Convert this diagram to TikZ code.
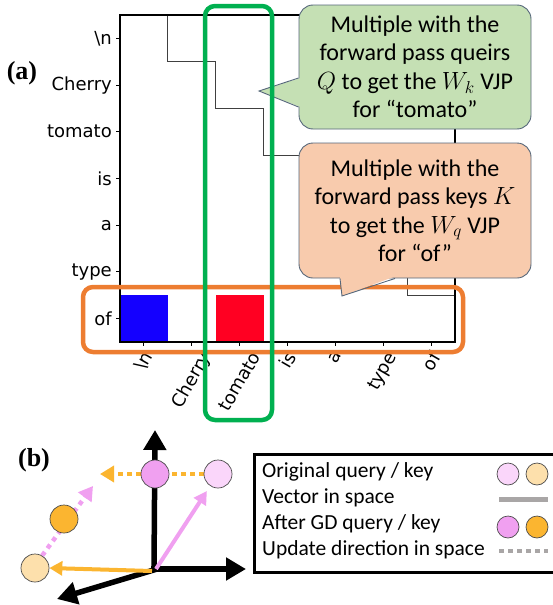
\documentclass[tikz,border=0pt]{standalone}
\usepackage{fontspec}
\usepackage{graphicx}
\setmainfont{Carlito}
\newfontfamily\plotfont{DejaVu Sans}
\newfontfamily\tagfont{Liberation Serif}
\usetikzlibrary{positioning,arrows.meta,backgrounds}

\definecolor{hlgreen}{HTML}{00B050}
\definecolor{hlorange}{HTML}{ED7D31}
\definecolor{notegreen}{HTML}{C5E0B4}
\definecolor{noteorange}{HTML}{F8CBAD}
\definecolor{noteline}{HTML}{56677A}
\definecolor{cellblue}{HTML}{1400FF}
\definecolor{cellred}{HTML}{FF0022}
\definecolor{qlight}{HTML}{FAD6FA}
\definecolor{qdark}{HTML}{F0A0F0}
\definecolor{klight}{HTML}{FDE0AC}
\definecolor{kdark}{HTML}{FBB530}
\definecolor{legendgray}{HTML}{A9A6A6}

\begin{document}
\begin{tikzpicture}[x=1pt, y=-1pt, >=Stealth, every node/.style={inner sep=0pt}]
  % compact styles
  \tikzset{
    ytick/.style={anchor=east, font=\plotfont\fontsize{18}{20}\selectfont},
    xtick/.style={anchor=north, font=\plotfont\fontsize{18}{20}\selectfont},
    mask/.style={draw=black!75, line width=1.1pt},
    hlbox/.style={line width=4.5pt, rounded corners=10pt},
    callbox/.style={draw=noteline, line width=0.9pt, rounded corners=14pt, minimum width=232pt, align=center, font=\fontsize{24}{28.5}\selectfont},
    axisarrow/.style={line width=5.5pt, -{Triangle[length=20pt,width=22pt]}},
    vec/.style={line width=4pt, -{Triangle[length=13pt,width=14pt]}},
    upd/.style={line width=4.5pt, dash pattern=on 4.5pt off 4.5pt, -{Triangle[length=14pt,width=16pt]}},
    blob/.style={circle, draw=black!70, line width=0.7pt, minimum size=28pt},
    legblob/.style={circle, draw=black!70, line width=0.7pt, minimum size=22pt},
    leg/.style={anchor=west, font=\fontsize{21.5}{24}\selectfont},
    tag/.style={font=\tagfont\bfseries\fontsize{26}{30}\selectfont}
  }
  \useasboundingbox (0,0) rectangle (553,605);

  % (a) attention map
  \node[tag] (taga) at (22,73) {(a)};
  \fill[cellblue] (120,295) rectangle (167.9,342);
  \fill[cellred] (215.7,295) rectangle (263.6,342);
  \foreach \i in {1,...,6}
    \draw[mask] ({120+47.86*\i},{15+46.71*(\i-1)}) -- ++(0,46.71) -- ++(47.86,0);
  \draw[line width=1.1pt] (120,15) rectangle (455,342);

  \foreach \lab [count=\i from 0] in {{\textbackslash n},Cherry,tomato,is,a,type,of} {
    \draw[line width=1pt] (116,{38.36+46.71*\i}) -- (120,{38.36+46.71*\i});
    \node[ytick] (ylab\i) at (112,{38.36+46.71*\i}) {\lab};
    \draw[line width=1pt] ({143.9+47.86*\i},342) -- ({143.9+47.86*\i},346);
    \node[xtick] (xlab\i) at ({143.9+47.86*\i},350) {\rotatebox{60}{\lab}};
  }

  % highlighted row
  \draw[hlbox, hlorange] (83,287) rectangle (463,352);

  % callouts
  \node[callbox, fill=notegreen, minimum height=124pt] (qnote) at (415,67)
    {Multiple with the\\forward pass queirs\\$Q$ to get the $W_k$ VJP\\for “tomato”};
  \coordinate (qtip) at (259,91);
  \fill[notegreen] (qtip) -- ([xshift=2pt,yshift=-11pt]qnote.west) -- ([xshift=2pt,yshift=-40pt]qnote.west) -- cycle;
  \draw[noteline, line width=0.9pt] ([yshift=-11pt]qnote.west) -- (qtip) -- ([yshift=-40pt]qnote.west);

  \node[callbox, fill=noteorange, minimum height=135pt] (knote) at (415,210.5)
    {Multiple with the\\forward pass keys $K$\\to get the $W_q$ VJP\\for “of”};
  \coordinate (ktip) at (342,296);
  \fill[noteorange] (ktip) -- ([xshift=-75pt,yshift=2pt]knote.south) -- ([xshift=-20pt,yshift=2pt]knote.south) -- cycle;
  \draw[noteline, line width=0.9pt] ([xshift=-75pt]knote.south) -- (ktip) -- ([xshift=-20pt]knote.south);

  % highlighted column
  \draw[hlbox, hlgreen] (205,6) rectangle (272,420);

  % (b) query / key space
  \node[tag] (tagb) at (34,460) {(b)};
  \coordinate (o) at (154,569);
  \coordinate (yend) at (155,430);
  \coordinate (xend) at (246,569);
  \coordinate (zend) at (57,599);
  \node[blob, fill=qlight] (oq) at (218,474) {};
  \node[blob, fill=qdark] (nq) at (155,474) {};
  \node[blob, fill=klight] (ok) at (35,568) {};
  \node[blob, fill=kdark] (nk) at (64,519) {};
  \coordinate (qend) at (100,474);
  \coordinate (kend) at (93,486);

  \begin{scope}[on background layer]
    \draw[axisarrow] (o) -- (yend);
    \draw[axisarrow] ([xshift=-3pt]o) -- (xend);
    \draw[axisarrow] ([xshift=3pt]o) -- (zend);
    \draw[vec, qdark, shorten >=6pt] ([xshift=2pt]o) -- (oq);
    \draw[vec, kdark] ([xshift=-2pt,yshift=-2pt]o) -- (ok.east);
    \draw[upd, kdark] (oq.west) -- (qend);
    \draw[upd, qdark] (ok.60) -- (kend);
  \end{scope}

  % legend
  \node[draw, line width=2.5pt, anchor=north west, minimum width=310pt, minimum height=118pt] (legend) at (253,453) {};
  \node[leg] (leg1) at (262,472) {Original query / key};
  \node[leg] (leg2) at (262,498) {Vector in space};
  \node[leg] (leg3) at (262,524) {After GD query / key};
  \node[leg] (leg4) at (262,550) {Update direction in space};
  \node[legblob, fill=qlight] (lq1) at (508,474) {};
  \node[legblob, fill=klight] (lk1) at (537,474) {};
  \node[legblob, fill=qdark] (lq2) at (508,527) {};
  \node[legblob, fill=kdark] (lk2) at (537,527) {};
  \draw[legendgray, line width=5pt] (499,499) -- (548,499);
  \draw[legendgray, line width=4.5pt, dash pattern=on 4.5pt off 4.5pt] (499,551) -- (548,551);
\end{tikzpicture}
\end{document}
